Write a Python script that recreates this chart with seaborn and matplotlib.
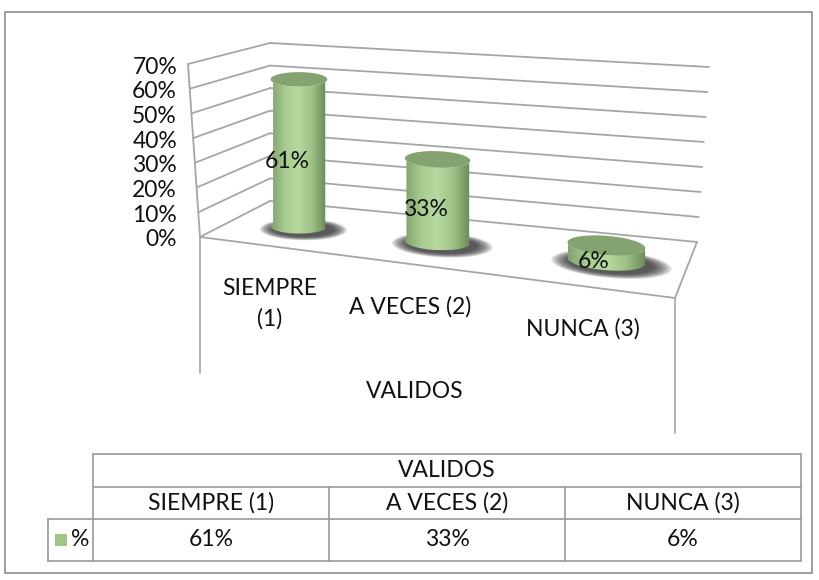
import numpy as np
import pandas as pd
import matplotlib
matplotlib.use("Agg")
import matplotlib.pyplot as plt
from matplotlib.patches import Polygon, Rectangle
import seaborn as sns

# Datos del grafico
categorias = ["SIEMPRE (1)", "A VECES (2)", "NUNCA (3)"]
etiquetas_eje = ["SIEMPRE\n(1)", "A VECES (2)", "NUNCA (3)"]
porcentajes = [0.61, 0.33, 0.06]
ticks_y = [0.0, 0.1, 0.2, 0.3, 0.4, 0.5, 0.6, 0.7]
titulo_eje = "VALIDOS"
nombre_serie = "%"

sns.set_theme(style="white")
plt.rcParams['font.family'] = ['Lato', 'DejaVu Sans']

GRIS = "#a6a6a6"
TEXTO = "#111111"
VMAX = ticks_y[-1]
FS = 16.5

# Caja 3D (suelo y techo) en pixeles de la figura
suelo = [(200, 237), (675, 298), (697, 242), (270, 201)]
techo = [(188, 64), (683, 106), (709, 67), (270, 43)]


def homografia(quad):
    src = [(0, 0), (1, 0), (1, 1), (0, 1)]
    A, b = [], []
    for (x, y), (X, Y) in zip(src, quad):
        A.append([x, y, 1, 0, 0, 0, -X * x, -X * y]); b.append(X)
        A.append([0, 0, 0, x, y, 1, -Y * x, -Y * y]); b.append(Y)
    h = np.linalg.solve(np.array(A, float), np.array(b, float))
    return np.append(h, 1).reshape(3, 3)


H_suelo = homografia(suelo)
H_techo = homografia(techo)


def aplicar(H, u, d):
    u = np.asarray(u, float); d = np.asarray(d, float)
    w = H[2, 0] * u + H[2, 1] * d + 1
    return (H[0, 0] * u + H[0, 1] * d + H[0, 2]) / w, (H[1, 0] * u + H[1, 1] * d + H[1, 2]) / w


def proj(u, d, v):
    x0, y0 = aplicar(H_suelo, u, d)
    x1, y1 = aplicar(H_techo, u, d)
    t = np.asarray(v, float) / VMAX
    return x0 + (x1 - x0) * t, y0 + (y1 - y0) * t


def pos_categoria(i):
    # posicion de cada cilindro a lo largo del eje de categorias
    return 0.18 + 0.34 * i


fig = plt.figure(figsize=(8.19, 5.8), dpi=100)
ax = fig.add_axes([0, 0, 1, 1])

# Lineas de la cuadricula (pared izquierda, pared del fondo, suelo)
filas = []
linea = 0
s = np.linspace(0, 1, 2)
for v in ticks_y:
    x, y = proj(np.zeros(2), s, v)
    for xi, yi in zip(x, y):
        filas.append((linea, xi, yi))
    linea += 1
    x, y = proj(s, np.ones(2), v)
    for xi, yi in zip(x, y):
        filas.append((linea, xi, yi))
    linea += 1
for u, d, v in [((0, 0), (0, 0), (0, VMAX)), ((0, 1), (0, 0), (0, 0)), ((1, 1), (0, 1), (0, 0))]:
    x, y = proj(np.array(u), np.array(d), np.array(v))
    for xi, yi in zip(x, y):
        filas.append((linea, xi, yi))
    linea += 1
rejilla = pd.DataFrame(filas, columns=["linea", "x", "y"])
sns.lineplot(data=rejilla, x="x", y="y", units="linea", estimator=None, sort=False,
             color=GRIS, linewidth=1.3, ax=ax, legend=False)

# lineas verticales bajo el suelo
ax.plot([200, 200], [237, 373], color=GRIS, lw=1.2)
ax.plot([675, 675], [298, 433], color=GRIS, lw=1.2)

# etiquetas del eje de valores
for v in ticks_y:
    x, y = proj(0, 0, v)
    ax.text(177, float(y) + 3, f"{v:.0%}", ha="right", va="center", fontsize=FS, color=TEXTO)

# Cilindros (verticales)
cmap_cuerpo = sns.blend_palette(["#83a36e", "#a8cb90", "#b5d99e", "#9ec286", "#6d8a5b"], as_cmap=True)
tt = np.linspace(0, 2 * np.pi, 240)
ru, rd, dc = 0.07, 0.17, 0.47
for i, val in enumerate(porcentajes):
    uc = pos_categoria(i)
    bx, by = proj(uc, dc, 0)
    tx, ty = proj(uc, dc, val)
    alto = float(by - ty)
    # sombra
    for k in range(10):
        f = 1.55 - 0.05 * k
        sx, sy = proj(uc + ru * f * np.cos(tt), dc + rd * f * 0.95 * np.sin(tt), 0)
        ax.add_patch(Polygon(np.column_stack([sx + 4, sy + 3]), closed=True,
                             facecolor="#202020", edgecolor="none", alpha=0.12, zorder=3))
    xb, yb = proj(uc + ru * np.cos(tt), dc + rd * np.sin(tt), 0)
    xt, yt = xb, yb - alto
    frente = np.sin(tt) <= 0
    orden = np.argsort(np.cos(tt[frente]))
    arco_b = np.column_stack([xb[frente][orden], yb[frente][orden]])
    arco_t = np.column_stack([xt[frente][orden], yt[frente][orden]])
    cuerpo = np.vstack([arco_b, arco_t[::-1]])
    poly = Polygon(cuerpo, closed=True, facecolor="none", edgecolor="none", transform=ax.transData)
    ax.add_patch(poly)
    x_izq, x_der = cuerpo[:, 0].min(), cuerpo[:, 0].max()
    im = ax.imshow(np.linspace(0, 1, 100)[None, :], cmap=cmap_cuerpo, aspect="auto",
                   extent=(x_izq, x_der, cuerpo[:, 1].max(), cuerpo[:, 1].min()), zorder=4)
    im.set_clip_path(poly)
    ax.add_patch(Polygon(np.column_stack([xt, yt]), closed=True, facecolor="#84a371",
                         edgecolor="none", zorder=5))
    # etiqueta de datos
    ax.text(float(bx) - 12, float(by) - alto / 2 + 9, f"{val:.0%}", ha="center", va="center",
            fontsize=FS, color=TEXTO, zorder=6)

# etiquetas de categorias
for i, lab in enumerate(etiquetas_eje):
    x, y = proj((i + 0.5) / len(etiquetas_eje), 0, 0)
    ax.text(float(x) + 9, float(y) + 33, lab, ha="center", va="top", fontsize=FS,
            color=TEXTO, linespacing=1.55)
ax.text(415, 391, titulo_eje, ha="center", va="center", fontsize=FS, color=TEXTO)

# Tabla de datos
x_cols = np.linspace(93, 801, len(categorias) + 1)
y_filas = [454, 487, 519, 561]
LT = "#9a9a9a"
ax.plot([x_cols[0], x_cols[-1]], [y_filas[0]] * 2, color=LT, lw=1.2)
ax.plot([x_cols[0], x_cols[-1]], [y_filas[1]] * 2, color=LT, lw=1.2)
ax.plot([48, x_cols[-1]], [y_filas[2]] * 2, color=LT, lw=1.2)
ax.plot([48, x_cols[-1]], [y_filas[3]] * 2, color=LT, lw=1.2)
ax.plot([48, 48], [y_filas[2], y_filas[3]], color=LT, lw=1.2)
ax.plot([x_cols[0]] * 2, [y_filas[0], y_filas[3]], color=LT, lw=1.2)
ax.plot([x_cols[-1]] * 2, [y_filas[0], y_filas[3]], color=LT, lw=1.2)
for xc in x_cols[1:-1]:
    ax.plot([xc, xc], [y_filas[1], y_filas[3]], color=LT, lw=1.2)
ax.text((x_cols[0] + x_cols[-1]) / 2, (y_filas[0] + y_filas[1]) / 2, titulo_eje,
        ha="center", va="center", fontsize=FS, color=TEXTO)
for i, (cat, val) in enumerate(zip(categorias, porcentajes)):
    xm = (x_cols[i] + x_cols[i + 1]) / 2
    ax.text(xm, (y_filas[1] + y_filas[2]) / 2, cat, ha="center", va="center", fontsize=FS, color=TEXTO)
    ax.text(xm, (y_filas[2] + y_filas[3]) / 2, f"{val:.0%}", ha="center", va="center",
            fontsize=FS, color=TEXTO)
ym = (y_filas[2] + y_filas[3]) / 2
ax.add_patch(Rectangle((55, ym - 6), 12, 12, facecolor="#9fc587", edgecolor="none"))
ax.text(71, ym, nombre_serie, ha="left", va="center", fontsize=FS, color=TEXTO)

# borde exterior
ax.add_patch(Rectangle((5, 12), 807, 561, facecolor="none", edgecolor="#8c8c8c", lw=1.2))

ax.set_xlim(0, 819)
ax.set_ylim(580, 0)
ax.axis("off")
fig.savefig("out.png", dpi=100)
